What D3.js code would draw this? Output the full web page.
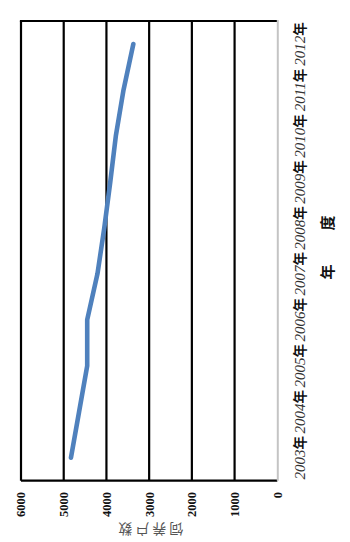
<!DOCTYPE html>
<html>
<head>
<meta charset="utf-8">
<script src="https://cdn.jsdelivr.net/npm/d3@7"></script>
<style>
  html, body { margin: 0; padding: 0; background: #fff; }
  svg { display: block; }
</style>
</head>
<body>
<div id="chart"></div>
<script>
// Yearly number of farming households (饲养户数), 2003–2012
const years = ["2003", "2004", "2005", "2006", "2007", "2008", "2009", "2010", "2011", "2012"];
const households = [4830, 4640, 4450, 4450, 4210, 4050, 3910, 3780, 3600, 3370];
const valueTicks = [0, 1000, 2000, 3000, 4000, 5000, 6000];
const xTitle = ["年", "度"];
const yTitle = "饲养户数";

const W = 350, H = 542;
const svg = d3.select("#chart").append("svg")
  .attr("width", W).attr("height", H);

// The chart is laid out in its own frame (categories along the width,
// values up the height) and the whole frame is turned a quarter turn.
const g = svg.append("g")
  .attr("transform", `translate(0,${H}) rotate(-90)`);

const plot = { left: 61.3, right: 521, top: 21, bottom: 277.3 };

const x = d3.scaleBand().domain(years).range([plot.left, plot.right]);
const y = d3.scaleLinear().domain([0, 6000]).range([plot.bottom, plot.top]);

// gridlines
g.append("g").selectAll("line").data(valueTicks.filter(v => v > 0))
  .join("line")
  .attr("x1", plot.left).attr("x2", plot.right)
  .attr("y1", d => y(d)).attr("y2", d => y(d))
  .attr("stroke", "#000").attr("stroke-width", 2.2);

// plot frame sides
g.append("line")
  .attr("x1", plot.left).attr("x2", plot.left)
  .attr("y1", plot.top).attr("y2", plot.bottom)
  .attr("stroke", "#000").attr("stroke-width", 2.2);
g.append("line")
  .attr("x1", plot.right).attr("x2", plot.right)
  .attr("y1", plot.top - 1.1).attr("y2", plot.bottom)
  .attr("stroke", "#000").attr("stroke-width", 2.2);

// category axis line
g.append("line")
  .attr("x1", plot.left).attr("x2", plot.right + 1.1)
  .attr("y1", plot.bottom + 0.5).attr("y2", plot.bottom + 0.5)
  .attr("stroke", "#c4c4c4").attr("stroke-width", 2);

// value tick labels
g.append("g").selectAll("text").data(valueTicks)
  .join("text")
  .attr("x", 50).attr("y", d => y(d))
  .attr("dy", "0.35em")
  .attr("text-anchor", "end")
  .attr("font-family", "'Liberation Serif', serif")
  .attr("font-weight", "bold")
  .attr("font-size", 12.5)
  .attr("fill", "#111")
  .text(d => d);

// category labels
const cat = g.append("g").selectAll("text").data(years)
  .join("text")
  .attr("x", d => x(d) + x.bandwidth() / 2)
  .attr("y", 305)
  .attr("text-anchor", "middle");
cat.append("tspan")
  .attr("font-family", "'Liberation Serif', serif")
  .attr("font-style", "italic")
  .attr("font-size", 15)
  .attr("fill", "#333")
  .text(d => d);
cat.append("tspan")
  .attr("font-family", "'Noto Sans CJK SC', sans-serif")
  .attr("font-weight", "bold")
  .attr("font-size", 13.5)
  .attr("fill", "#111")
  .text("年");

// category axis title
g.append("g").selectAll("text").data(xTitle)
  .join("text")
  .attr("x", (d, i) => [270, 319][i])
  .attr("y", 333)
  .attr("text-anchor", "middle")
  .attr("font-family", "'Noto Sans CJK SC', sans-serif")
  .attr("font-weight", "bold")
  .attr("font-size", 15)
  .attr("fill", "#111")
  .text(d => d);

// value axis title
g.append("text")
  .attr("transform", `translate(18,${(plot.top + plot.bottom) / 2}) rotate(-90)`)
  .attr("text-anchor", "middle")
  .attr("font-family", "'Noto Sans CJK SC', sans-serif")
  .attr("font-size", 14)
  .attr("letter-spacing", 3)
  .attr("fill", "#555")
  .text(yTitle);

// households line
const line = d3.line()
  .x((d, i) => x(years[i]) + x.bandwidth() / 2)
  .y(d => y(d));
g.append("path")
  .datum(households)
  .attr("d", line)
  .attr("fill", "none")
  .attr("stroke", "#4f81bd")
  .attr("stroke-width", 4.6)
  .attr("stroke-linecap", "round")
  .attr("stroke-linejoin", "round");
</script>
</body>
</html>
